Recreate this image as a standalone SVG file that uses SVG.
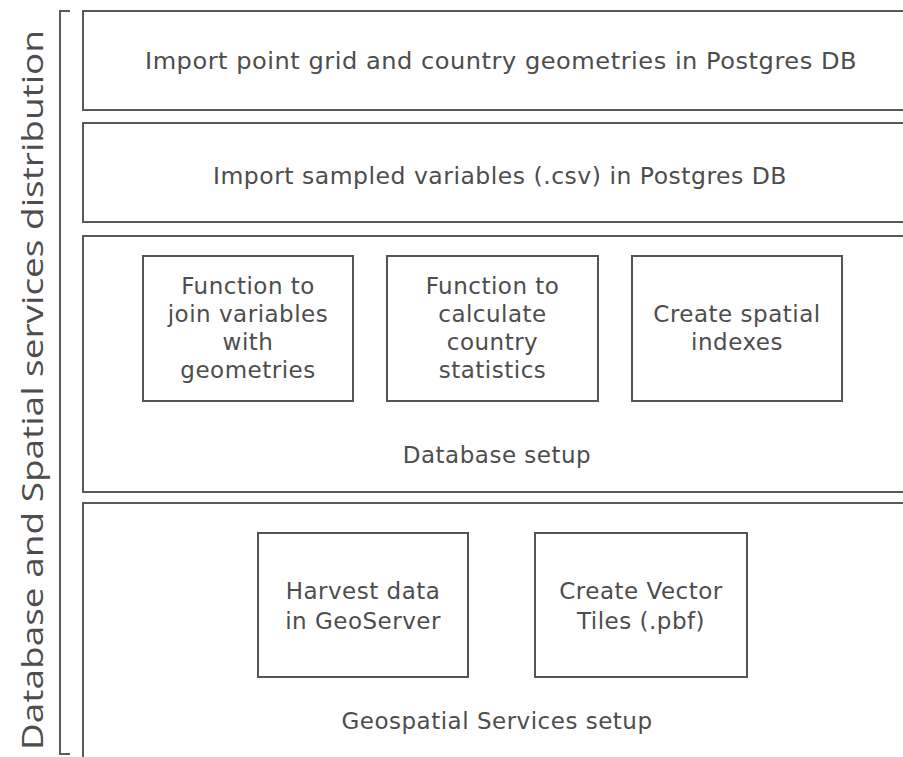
<svg xmlns="http://www.w3.org/2000/svg" width="903" height="757" viewBox="0 0 903 757">
  <style>
    .frame { fill: #ffffff; stroke: #5a5a5a; stroke-width: 2; }
    .box { fill: #ffffff; stroke: #555555; stroke-width: 2; }
    .bracket { fill: none; stroke: #5a5a5a; stroke-width: 2; }
    .lbl { font-family: "DejaVu Sans", "Liberation Sans", sans-serif; font-size: 23px; letter-spacing: 0.5px; fill: #4d4d4d; text-anchor: middle; }
    .side { font-family: "Open Sans", "Liberation Sans", sans-serif; font-size: 30px; fill: #4d4d4d; text-anchor: middle; }
  </style>
  <rect width="903" height="757" fill="#ffffff"/>

  <!-- side bracket and title -->
  <g id="side-label">
    <path class="bracket" d="M70,11 H60 V754 H70"/>
    <text class="side" transform="translate(43,390) rotate(-90)" textLength="720" lengthAdjust="spacingAndGlyphs">Database and Spatial services distribution</text>
  </g>

  <!-- stage 1 -->
  <g id="import-grid">
    <rect class="frame" x="83" y="11" width="830" height="99"/>
    <text class="lbl" x="501" y="69" textLength="712" lengthAdjust="spacingAndGlyphs">Import point grid and country geometries in Postgres DB</text>
  </g>

  <!-- stage 2 -->
  <g id="import-variables">
    <rect class="frame" x="83" y="123" width="830" height="99"/>
    <text class="lbl" x="500" y="184" textLength="574" lengthAdjust="spacingAndGlyphs">Import sampled variables (.csv) in Postgres DB</text>
  </g>

  <!-- stage 3: database setup -->
  <g id="database-setup">
    <rect class="frame" x="83" y="236" width="830" height="256"/>
    <text class="lbl" x="497" y="463">Database setup</text>
  </g>
  <g id="fn-join">
    <rect class="box" x="143" y="256" width="210" height="145"/>
    <text class="lbl" x="248" y="294">Function to</text>
    <text class="lbl" x="248" y="322">join variables</text>
    <text class="lbl" x="248" y="350">with</text>
    <text class="lbl" x="248" y="378">geometries</text>
  </g>
  <g id="fn-stats">
    <rect class="box" x="387" y="256" width="211" height="145"/>
    <text class="lbl" x="492.5" y="294">Function to</text>
    <text class="lbl" x="492.5" y="322">calculate</text>
    <text class="lbl" x="492.5" y="350">country</text>
    <text class="lbl" x="492.5" y="378">statistics</text>
  </g>
  <g id="spatial-indexes">
    <rect class="box" x="632" y="256" width="210" height="145"/>
    <text class="lbl" x="737" y="322">Create spatial</text>
    <text class="lbl" x="737" y="350">indexes</text>
  </g>

  <!-- stage 4: geospatial services -->
  <g id="geoservices-setup">
    <rect class="frame" x="83" y="503" width="830" height="270"/>
    <text class="lbl" x="497" y="729">Geospatial Services setup</text>
  </g>
  <g id="geoserver">
    <rect class="box" x="258" y="533" width="210" height="144"/>
    <text class="lbl" x="363" y="599">Harvest data</text>
    <text class="lbl" x="363" y="629">in GeoServer</text>
  </g>
  <g id="vector-tiles">
    <rect class="box" x="535" y="533" width="212" height="144"/>
    <text class="lbl" x="641" y="599">Create Vector</text>
    <text class="lbl" x="641" y="629">Tiles (.pbf)</text>
  </g>

  <!-- no connectors between stages -->
  <g id="connectors"/>
</svg>
